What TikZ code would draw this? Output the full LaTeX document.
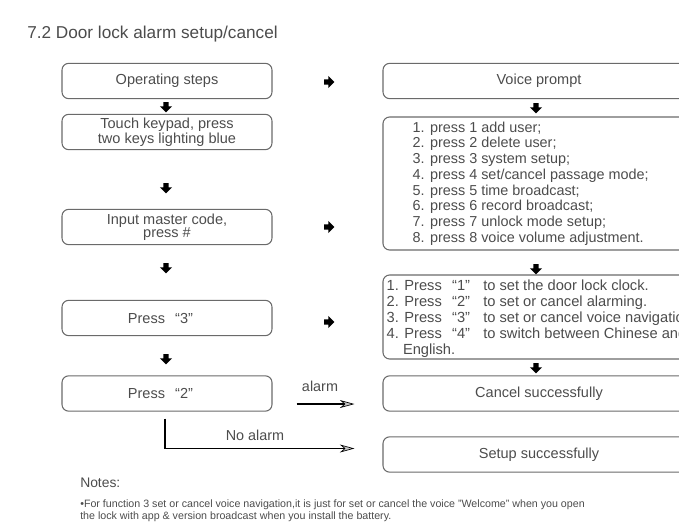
\documentclass[tikz,border=0pt]{standalone}
\usepackage{fontspec}
\setmainfont{Liberation Sans}
\usetikzlibrary{arrows.meta, shapes.arrows}
\definecolor{txtgray}{HTML}{4C4C4C}
\definecolor{boxgray}{HTML}{6A6A6A}
\newcommand\pq[1]{Press\hspace{0.7em}“#1”\hspace{0.9em}}

\begin{document}
\begin{tikzpicture}[x=0.75pt, y=-0.75pt,
  box/.style={draw=boxgray, line width=0.8pt, rounded corners=5pt, text=txtgray, align=center, inner sep=0pt, font=\fontsize{10.9}{10.1}\selectfont},
  lbox/.style={box, minimum width=157.5pt, minimum height=26.5pt},
  rbox/.style={box, minimum width=234pt, minimum height=26.5pt},
  blk/.style={single arrow, fill=black, inner sep=1.7pt, minimum width=8.8pt, minimum height=7.8pt, single arrow head extend=2.7pt},
  dn/.style={blk, shape border rotate=270},
  flow/.style={line width=1.4pt, -{Stealth[length=11pt, width=6pt, inset=3.5pt, line width=0.5pt, fill=gray!45]}},
  lbl/.style={text=txtgray, font=\fontsize{10.8}{12}\selectfont, inner sep=0pt}]
\useasboundingbox (0,0) rectangle (679,532);
\clip (0,0) rectangle (679,532);

\node[lbl, anchor=base west, font=\fontsize{12.9}{15}\selectfont] (title) at (27,38) {7.2 Door lock alarm setup/cancel};

\node[lbox] (ops) at (167,81) {Operating steps};
\node[lbox] (touch) at (167,132) {Touch keypad, press\\two keys lighting blue};
\node[lbox] (input) at (167,227) {Input master code,\\press \#};
\node[lbox] (press3) at (167,318) {\pq{3}};
\node[lbox] (press2) at (167,393.5) {\pq{2}};

\node[rbox] (voice) at (539,81) {Voice prompt};
\node[rbox, minimum height=99.75pt] (menu) at (539,183.5) {};
\node[rbox, minimum height=63pt] (funcs) at (539,317) {};
\node[rbox] (cancel) at (539,393.5) {Cancel successfully};
\node[rbox] (setup) at (539,454.5) {Setup successfully};

\node[lbl, anchor=west, align=left, font=\fontsize{10.8}{11.8}\selectfont] (menutext) at ([xshift=22.5pt]menu.west) {1. press 1 add user;\\2. press 2 delete user;\\3. press 3 system setup;\\4. press 4 set/cancel passage mode;\\5. press 5 time broadcast;\\6. press 6 record broadcast;\\7. press 7 unlock mode setup;\\8. press 8 voice volume adjustment.};
\node[lbl, anchor=west, align=left, font=\fontsize{11}{12}\selectfont] (functext) at ([xshift=3pt, yshift=-1pt]funcs.west) {1. \pq{1}to set the door lock clock.\\2. \pq{2}to set or cancel alarming.\\3. \pq{3}to set or cancel voice navigation.\\4. \pq{4}to switch between Chinese and\\\hphantom{1.} English.};

\node[blk] (r1) at (328,82) {};
\node[blk] (r2) at (328,227) {};
\node[blk] (r3) at (328,322) {};
\node[dn] (d1) at (166,106) {};
\node[dn] (d2) at (166,187) {};
\node[dn] (d3) at (166,267) {};
\node[dn] (d4) at (166,358) {};
\node[dn] (e1) at (536,107) {};
\node[dn] (e2) at (536,268) {};
\node[dn] (e3) at (536,367) {};

\draw[flow, shorten <=18pt, shorten >=21pt] ([yshift=-7.9pt]press2.east) -- ([yshift=-7.9pt]cancel.west);
\node[lbl] (alarm) at (320,386) {alarm};
\draw[flow] ([xshift=-1.5pt, yshift=-5.25pt]press2.south) |- ([xshift=-21pt, yshift=4.5pt]setup.west);
\node[lbl] (noalarm) at (255,435) {No alarm};

\node[lbl, anchor=west, font=\fontsize{10.4}{12}\selectfont] (notes) at (80,483) {Notes:};
\node[lbl, anchor=north west, align=left, font=\fontsize{8}{9.2}\selectfont] (note) at (80,499) {•For function 3 set or cancel voice navigation,it is just for set or cancel the voice "Welcome" when you open\\the lock with app \& version broadcast when you install the battery.};
\end{tikzpicture}
\end{document}
